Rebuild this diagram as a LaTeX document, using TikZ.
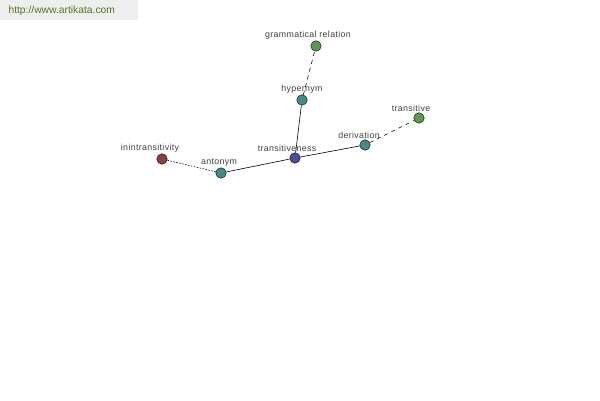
\documentclass[tikz,border=0pt]{standalone}
\usepackage{fontspec}
\setmainfont{Liberation Sans}
\newfontfamily\lblfont[LetterSpace=4]{Liberation Sans}
\usetikzlibrary{positioning}
\definecolor{LeafGreen}{HTML}{5A9A4C}
\definecolor{Teal}{HTML}{3E8E86}
\definecolor{Indigo}{HTML}{4A4C9C}
\definecolor{Maroon}{HTML}{8E3E3E}
\definecolor{UrlGreen}{HTML}{557521}
\definecolor{UrlGray}{HTML}{EEEEEE}
\begin{document}
\begin{tikzpicture}[x=1pt,y=-1pt,
    word/.style={circle,draw=black,line width=0.4pt,minimum size=10.5pt,inner sep=0pt,
      label distance=0pt},
    lbl/.style={font=\lblfont\fontsize{8.8}{9}\selectfont,text=black!75,inner sep=1pt},
    rel/.style={line width=0.6pt,black},
    far/.style={rel,dash pattern=on 4pt off 4pt},
    near/.style={rel,dash pattern=on 1.5pt off 1.5pt}
  ]
    \useasboundingbox (0,0) rectangle (600,400);
    \fill[UrlGray] (0,0) rectangle (138,20);
    \node[font=\fontsize{10.3}{11}\selectfont,text=UrlGreen,anchor=west] (url) at (5,10.5) {http://www.artikata.com};
    \node[word,fill=Indigo,label={[lbl,xshift=-8]above:transitiveness}] (transitiveness) at (295,158) {};
    \node[word,fill=Teal,label={[lbl]above:hypernym}] (hypernym) at (302,100) {};
    \node[word,fill=LeafGreen,label={[lbl,xshift=-8]above:grammatical relation}] (grammatical) at (316,46) {};
    \node[word,fill=Teal,label={[lbl,xshift=-6]above:derivation}] (derivation) at (365,145) {};
    \node[word,fill=LeafGreen,label={[lbl,xshift=-8]above:transitive}] (transitive) at (419,118) {};
    \node[word,fill=Teal,label={[lbl,xshift=-2]above:antonym}] (antonym) at (221,173) {};
    \node[word,fill=Maroon,label={[lbl,xshift=-12]above:inintransitivity}] (inintransitivity) at (162,159) {};
    \draw[rel] (transitiveness)--(hypernym);
    \draw[far] (hypernym)--(grammatical);
    \draw[rel] (transitiveness)--(derivation);
    \draw[far] (derivation)--(transitive);
    \draw[rel] (transitiveness)--(antonym);
    \draw[near] (antonym)--(inintransitivity);
  \end{tikzpicture}
\end{document}
